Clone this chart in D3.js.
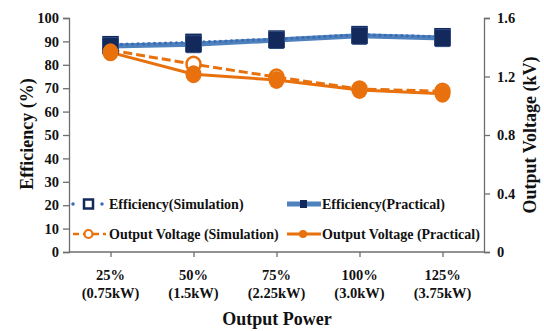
<!DOCTYPE html>
<html>
<head>
<meta charset="utf-8">
<script src="https://cdn.jsdelivr.net/npm/d3@7"></script>
<style>
  html, body { margin: 0; padding: 0; background: #fff; }
  svg { display: block; font-family: "Liberation Serif", "Times New Roman", Times, serif; font-weight: bold; }
  svg text { font-family: "Liberation Serif", "Times New Roman", Times, serif; font-weight: bold; }
</style>
</head>
<body>
<svg id="chart" width="544" height="331"></svg>
<script>
// Load levels on the x axis (two-line labels)
const categories = ["25%", "50%", "75%", "100%", "125%"];
const categoryPower = ["(0.75kW)", "(1.5kW)", "(2.25kW)", "(3.0kW)", "(3.75kW)"];

// Efficiency (%), left axis
const effSimulation = [88.6, 89.6, 91.0, 92.9, 92.0];
const effPractical  = [88.0, 88.8, 90.6, 92.4, 91.4];

// Output voltage (kV), right axis
const voltSimulation = [1.38, 1.284, 1.196, 1.115, 1.099];
const voltPractical  = [1.365, 1.216, 1.176, 1.108, 1.082];

const leftTicks  = [0, 10, 20, 30, 40, 50, 60, 70, 80, 90, 100];
const rightTicks = [0, 0.4, 0.8, 1.2, 1.6];

const BLUE_LINE = "#4f81bd", BLUE_DOT = "#3a6db5", NAVY = "#13295c", ORANGE = "#e8710e", AXIS = "#6e6e6e";
const SERIF = '"Liberation Serif", "Times New Roman", Times, serif';

const svg = d3.select("#chart");
const plot = { left: 69, right: 484, top: 18, bottom: 252 };

const x = d3.scalePoint().domain(categories).range([plot.left, plot.right]).padding(0.5);
const yL = d3.scaleLinear().domain([0, 100]).range([plot.bottom, plot.top]);
const yR = d3.scaleLinear().domain([0, 1.6]).range([plot.bottom, plot.top]);

// Axes
const axisStyle = g => {
  g.attr("font-family", SERIF).attr("font-weight", "bold");
  g.selectAll(".domain").attr("stroke", AXIS).attr("stroke-width", 1.3);
  g.selectAll(".tick line").attr("stroke", AXIS).attr("stroke-width", 1.3);
  g.selectAll("text").attr("fill", "#111");
};

svg.append("g")
  .attr("transform", `translate(${plot.left},0)`)
  .call(d3.axisLeft(yL).tickValues(leftTicks).tickSize(6).tickSizeOuter(6).tickPadding(4))
  .call(axisStyle)
  .call(g => g.selectAll("text").attr("font-size", 14.5));

svg.append("g")
  .attr("transform", `translate(${plot.right},0)`)
  .call(d3.axisRight(yR).tickValues(rightTicks).tickFormat(d => d === 0 ? "0" : d3.format(".1f")(d)).tickSize(6).tickSizeOuter(6).tickPadding(7))
  .call(axisStyle)
  .call(g => g.selectAll("text").attr("font-size", 14.5));

const xAxis = svg.append("g")
  .attr("transform", `translate(0,${plot.bottom})`)
  .call(d3.axisBottom(x).tickSize(5).tickSizeOuter(0).tickFormat(() => ""))
  .call(axisStyle);
xAxis.select(".domain").attr("d", `M${plot.left},0H${plot.right}`);

const xLabels = svg.append("g").attr("font-size", 14.5).attr("text-anchor", "middle").attr("fill", "#111");
categories.forEach((c, i) => {
  xLabels.append("text").attr("x", x(c)).attr("y", 280).text(c);
  xLabels.append("text").attr("x", x(c)).attr("y", 298).text(categoryPower[i]);
});

// Axis titles
svg.append("text").attr("x", 277).attr("y", 325).attr("text-anchor", "middle")
  .attr("font-size", 18).attr("fill", "#111").text("Output Power");
svg.append("text").attr("transform", "translate(33,134) rotate(-90)").attr("text-anchor", "middle")
  .attr("font-size", 18).attr("fill", "#111").text("Efficiency (%)");
svg.append("text").attr("transform", "translate(536,135) rotate(-90)").attr("text-anchor", "middle")
  .attr("font-size", 18).attr("fill", "#111").text("Output Voltage (kV)");

// Series lines
const lineL = d3.line().x((d, i) => x(categories[i])).y(d => yL(d));
const lineR = d3.line().x((d, i) => x(categories[i])).y(d => yR(d));

// efficiency, practical (thick steel blue)
svg.append("path").datum(effPractical).attr("d", lineL).attr("fill", "none")
  .attr("stroke", BLUE_LINE).attr("stroke-width", 5);
// efficiency, simulation (round dots)
svg.append("path").datum(effSimulation).attr("d", lineL).attr("fill", "none")
  .attr("stroke", BLUE_DOT).attr("stroke-width", 3.2).attr("stroke-linecap", "round").attr("stroke-dasharray", "0,5.5");

// voltage, simulation (dashed)
svg.append("path").datum(voltSimulation).attr("d", lineR).attr("fill", "none")
  .attr("stroke", ORANGE).attr("stroke-width", 3).attr("stroke-dasharray", "9,4");
// voltage, practical (solid)
svg.append("path").datum(voltPractical).attr("d", lineR).attr("fill", "none")
  .attr("stroke", ORANGE).attr("stroke-width", 3);

// Markers
svg.append("g").selectAll("rect").data(effSimulation).join("rect")
  .attr("x", (d, i) => x(categories[i]) - 7).attr("y", d => yL(d) - 7.5)
  .attr("width", 14).attr("height", 15).attr("fill", "#fff").attr("stroke", NAVY).attr("stroke-width", 2.5);
svg.append("g").selectAll("ellipse").data(voltSimulation).join("ellipse")
  .attr("cx", (d, i) => x(categories[i])).attr("cy", d => yR(d)).attr("rx", 7).attr("ry", 7.5)
  .attr("fill", "#fff").attr("stroke", ORANGE).attr("stroke-width", 2.5);
svg.append("g").selectAll("rect").data(effPractical).join("rect")
  .attr("x", (d, i) => x(categories[i]) - 8).attr("y", d => yL(d) - 8.5)
  .attr("width", 16).attr("height", 17).attr("rx", 1.5).attr("fill", NAVY).attr("stroke", "#2d4a82").attr("stroke-width", 1);
svg.append("g").selectAll("ellipse").data(voltPractical).join("ellipse")
  .attr("cx", (d, i) => x(categories[i])).attr("cy", d => yR(d)).attr("rx", 8).attr("ry", 9)
  .attr("fill", ORANGE);

// Legend
const legend = svg.append("g").attr("font-size", 14);
const rowY = [204, 234];
// Efficiency (Simulation)
legend.append("line").attr("x1", 73).attr("x2", 104).attr("y1", rowY[0]).attr("y2", rowY[0])
  .attr("stroke", BLUE_DOT).attr("stroke-width", 3.5).attr("stroke-linecap", "round").attr("stroke-dasharray", "0,14.5");
legend.append("rect").attr("x", 84).attr("y", rowY[0] - 4.5).attr("width", 9).attr("height", 9)
  .attr("fill", "#fff").attr("stroke", NAVY).attr("stroke-width", 2.5);
legend.append("text").attr("x", 109).attr("y", rowY[0] + 5).attr("fill", "#111").text("Efficiency(Simulation)");
// Output Voltage (Simulation)
legend.append("line").attr("x1", 73).attr("x2", 106).attr("y1", rowY[1]).attr("y2", rowY[1])
  .attr("stroke", ORANGE).attr("stroke-width", 2.5).attr("stroke-dasharray", "6,4");
legend.append("circle").attr("cx", 88.5).attr("cy", rowY[1]).attr("r", 4)
  .attr("fill", "#fff").attr("stroke", ORANGE).attr("stroke-width", 2.2);
legend.append("text").attr("x", 109).attr("y", rowY[1] + 5).attr("fill", "#111").text("Output Voltage (Simulation)");
// Efficiency (Practical)
legend.append("line").attr("x1", 287).attr("x2", 321).attr("y1", rowY[0]).attr("y2", rowY[0])
  .attr("stroke", BLUE_LINE).attr("stroke-width", 5);
legend.append("rect").attr("x", 300).attr("y", rowY[0] - 4).attr("width", 7).attr("height", 8)
  .attr("fill", NAVY);
legend.append("text").attr("x", 322).attr("y", rowY[0] + 5).attr("fill", "#111").text("Efficiency(Practical)");
// Output Voltage (Practical)
legend.append("line").attr("x1", 287).attr("x2", 321).attr("y1", rowY[1]).attr("y2", rowY[1])
  .attr("stroke", ORANGE).attr("stroke-width", 3);
legend.append("circle").attr("cx", 303).attr("cy", rowY[1]).attr("r", 4).attr("fill", ORANGE);
legend.append("text").attr("x", 322).attr("y", rowY[1] + 5).attr("fill", "#111").text("Output Voltage (Practical)");
</script>
</body>
</html>
